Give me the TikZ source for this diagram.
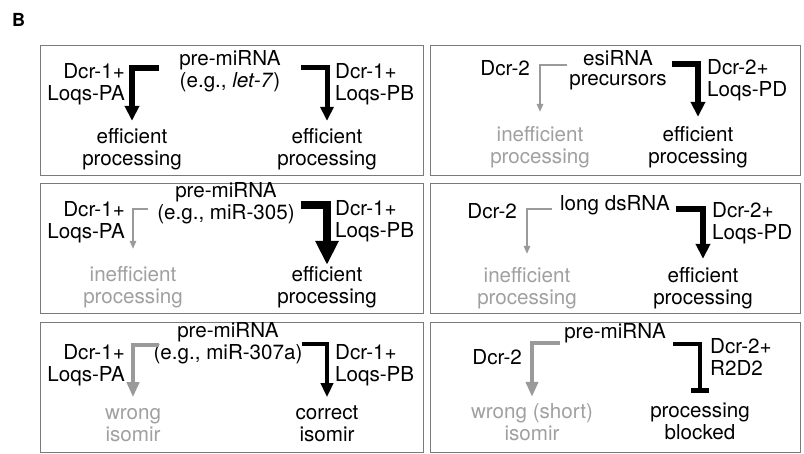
\documentclass[tikz,border=0pt]{standalone}
\usepackage{fontspec}
\setmainfont{TeX Gyre Heros}
\usetikzlibrary{arrows.meta}
\definecolor{lgray}{HTML}{A0A0A0}
\definecolor{agray}{HTML}{9A9A9A}
\definecolor{bgray}{HTML}{7A7A7A}
\begin{document}
\begin{tikzpicture}[x=1pt,y=-1pt,
  panel/.style={draw=bgray, line width=1.3pt, inner sep=0, anchor=north west},
  txt/.style={inner sep=0, align=center, font=\fontsize{20.6}{20.5}\selectfont},
  grytxt/.style={txt, text=lgray},
  lft/.style={txt, align=right, anchor=east},
  rgt/.style={txt, align=left, anchor=west},
  conn/.style={line join=miter, line cap=butt},
]
\useasboundingbox (0,0) rectangle (804,453);
% label
\node[inner sep=0, font=\bfseries\fontsize{18}{18}\selectfont] (lbl) at (18.5,20) {B};
% panels
\node[panel, minimum width=383pt, minimum height=130pt] (p1) at (40,45) {};
\node[panel, minimum width=370pt, minimum height=130pt] (p2) at (430,45) {};
\node[panel, minimum width=383pt, minimum height=130pt] (p3) at (40,183) {};
\node[panel, minimum width=370pt, minimum height=130pt] (p4) at (430,183) {};
\node[panel, minimum width=383pt, minimum height=129.5pt] (p5) at (40,322) {};
\node[panel, minimum width=370pt, minimum height=129.5pt] (p6) at (430,322) {};

% ---------- panel 1
\node[txt] (src1) at (230,71.7) {pre-miRNA\strut\\(e.g., \textit{let-7})\strut};
\node[lft] (l1a) at (125,84.7) {Dcr-1+\strut\\Loqs-PA\strut};
\node[rgt] (l1b) at (335,84.7) {Dcr-1+\strut\\Loqs-PB\strut};
\node[txt] (o1a) at (132,149.7) {efficient\strut\\processing\strut};
\node[txt] (o1b) at (327,149.7) {efficient\strut\\processing\strut};
\coordinate (s1a) at (159,68);
\coordinate (s1b) at (301,67);
\draw[conn, black, line width=6.5pt, -{Triangle[length=15pt,width=14pt]}, shorten >=7.2pt] (s1a) -| (o1a.north);
\draw[conn, black, line width=5pt, -{Triangle[length=14pt,width=13pt]}, shorten >=7.2pt] (s1b) -| (o1b.north);

% ---------- panel 2
\node[txt] (src2) at (618,71.2) {esiRNA\strut\\precursors\strut};
\node[lft] (l2a) at (530,71.5) {Dcr-2\strut};
\node[rgt] (l2b) at (707,81.2) {Dcr-2+\strut\\Loqs-PD\strut};
\node[grytxt] (o2a) at (540,148.2) {inefficient\strut\\processing\strut};
\node[txt] (o2b) at (698,148.2) {efficient\strut\\processing\strut};
\coordinate (s2a) at (567,65);
\coordinate (s2b) at (672,64);
\draw[conn, agray, line width=1.5pt, -{Triangle[length=8pt,width=6.5pt]}, shorten >=14.7pt] (s2a) -| (o2a.north);
\draw[conn, black, line width=6pt, -{Triangle[length=15pt,width=14pt]}, shorten >=9.7pt] (s2b) -| (o2b.north);

% ---------- panel 3
\node[txt] (src3) at (226,204) {pre-miRNA\strut\\(e.g., miR-305)\strut};
\node[lft] (l3a) at (125,223.2) {Dcr-1+\strut\\Loqs-PA\strut};
\node[rgt] (l3b) at (335,222) {Dcr-1+\strut\\Loqs-PB\strut};
\node[grytxt] (o3a) at (133,288.2) {inefficient\strut\\processing\strut};
\node[txt] (o3b) at (327,288.2) {efficient\strut\\processing\strut};
\coordinate (s3a) at (148,209);
\coordinate (s3b) at (301,205);
\draw[conn, agray, line width=1.5pt, -{Triangle[length=8pt,width=6.5pt]}, shorten >=17.7pt] (s3a) -| (o3a.north);
\draw[conn, black, line width=8pt, -{Triangle[length=24pt,width=22pt]}, shorten >=1.7pt] (s3b) -| (o3b.north);

% ---------- panel 4
\node[txt] (src4) at (615,206.5) {long dsRNA\strut};
\node[lft] (l4a) at (517,214.5) {Dcr-2\strut};
\node[rgt] (l4b) at (712,224.2) {Dcr-2+\strut\\Loqs-PD\strut};
\node[grytxt] (o4a) at (527,289.2) {inefficient\strut\\processing\strut};
\node[txt] (o4b) at (703,289.2) {efficient\strut\\processing\strut};
\coordinate (s4a) at (552,209);
\coordinate (s4b) at (676,209);
\draw[conn, agray, line width=1.5pt, -{Triangle[length=8pt,width=6.5pt]}, shorten >=13.7pt] (s4a) -| (o4a.north);
\draw[conn, black, line width=5.5pt, -{Triangle[length=15pt,width=14pt]}, shorten >=8.7pt] (s4b) -| (o4b.north);

% ---------- panel 5
\node[txt] (src5) at (228,343.7) {pre-miRNA\strut\\(e.g., miR-307a)\strut};
\node[lft] (l5a) at (125,366.2) {Dcr-1+\strut\\Loqs-PA\strut};
\node[rgt] (l5b) at (335,366.2) {Dcr-1+\strut\\Loqs-PB\strut};
\node[grytxt] (o5a) at (133,426.2) {wrong\strut\\isomir\strut};
\node[txt] (o5b) at (327,426.2) {correct\strut\\isomir\strut};
\coordinate (s5a) at (159,345);
\coordinate (s5b) at (302,344);
\draw[conn, agray, line width=4pt, -{Triangle[length=15pt,width=12pt]}, shorten >=7.7pt] (s5a) -| (o5a.north);
\draw[conn, black, line width=3.5pt, -{Triangle[length=14pt,width=12pt]}, shorten >=7.7pt] (s5b) -| (o5b.north);

% ---------- panel 6
\node[txt] (src6) at (615,334.5) {pre-miRNA\strut};
\node[lft] (l6a) at (522,360) {Dcr-2\strut};
\node[rgt] (l6b) at (710,360.2) {Dcr-2+\strut\\R2D2\strut};
\node[grytxt] (o6a) at (532,425.2) {wrong (short)\strut\\isomir\strut};
\node[txt] (o6b) at (700,424.2) {processing\strut\\blocked\strut};
\coordinate (s6a) at (560,343);
\coordinate (s6b) at (673,344);
\draw[conn, agray, line width=4pt, -{Triangle[length=15pt,width=12pt]}, shorten >=6.7pt] (s6a) -| (o6a.north);
\draw[conn, black, line width=4.5pt, -{Bar[width=18pt]}, shorten >=9.7pt] (s6b) -| (o6b.north);
\end{tikzpicture}
\end{document}
